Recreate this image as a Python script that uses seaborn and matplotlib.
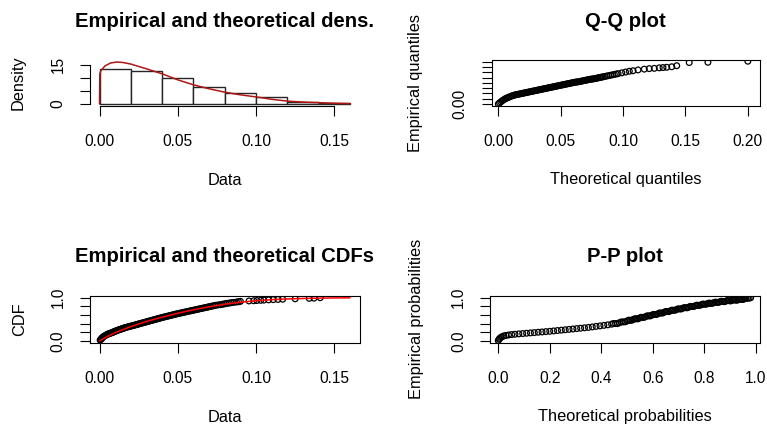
import numpy as np
import matplotlib
matplotlib.use("Agg")
import matplotlib.pyplot as plt
import seaborn as sns

# ---------------- data ----------------
dens_bin_edges = [0.00, 0.02, 0.04, 0.06, 0.08, 0.10, 0.12, 0.14, 0.16]
dens_bin_heights = [13.2, 12.6, 9.8, 6.4, 4.1, 2.8, 0.7, 0.3]

dens_curve_x = [0.0, 0.0002, 0.001, 0.0035, 0.007, 0.011, 0.015, 0.02, 0.03, 0.04,
                0.05, 0.06, 0.07, 0.08, 0.09, 0.10, 0.11, 0.12, 0.13, 0.14, 0.15, 0.16]
dens_curve_y = [0.0, 11.5, 12.8, 14.5, 15.6, 16.0, 15.8, 15.2, 13.4, 11.5,
                9.2, 7.3, 5.8, 4.5, 3.5, 2.7, 1.8, 1.1, 0.75, 0.5, 0.3, 0.15]

qq_theoretical = [0.000, 0.001, 0.002, 0.003, 0.004, 0.005, 0.006, 0.007, 0.008, 0.009,
                  0.010, 0.011, 0.012, 0.013, 0.014, 0.015, 0.016, 0.017, 0.018, 0.019,
                  0.020, 0.021, 0.022, 0.023, 0.024, 0.025, 0.026, 0.027, 0.028, 0.029,
                  0.030, 0.031, 0.032, 0.033, 0.034, 0.035, 0.036, 0.037, 0.038, 0.039,
                  0.040, 0.041, 0.042, 0.043, 0.044, 0.045, 0.046, 0.047, 0.048, 0.049,
                  0.050, 0.051, 0.052, 0.053, 0.054, 0.055, 0.056, 0.057, 0.058, 0.059,
                  0.060, 0.061, 0.062, 0.063, 0.064, 0.065, 0.066, 0.067, 0.068, 0.069,
                  0.070, 0.071, 0.072, 0.073, 0.074, 0.075, 0.076, 0.077, 0.078, 0.079,
                  0.080, 0.081, 0.082, 0.083, 0.084, 0.0855, 0.087, 0.0885, 0.090, 0.0915,
                  0.093, 0.0945, 0.096, 0.099, 0.102, 0.105, 0.108, 0.112, 0.117, 0.121,
                  0.125, 0.129, 0.132, 0.135, 0.139, 0.143, 0.153, 0.168, 0.200]
qq_empirical = [0.000, 0.004, 0.008, 0.012, 0.015, 0.018, 0.021, 0.023, 0.025, 0.027,
                0.029, 0.031, 0.032, 0.034, 0.035, 0.036, 0.037, 0.038, 0.039, 0.040,
                0.041, 0.042, 0.043, 0.044, 0.045, 0.046, 0.047, 0.048, 0.049, 0.050,
                0.051, 0.052, 0.053, 0.054, 0.055, 0.056, 0.057, 0.058, 0.059, 0.060,
                0.061, 0.062, 0.063, 0.064, 0.065, 0.066, 0.067, 0.068, 0.069, 0.070,
                0.071, 0.072, 0.073, 0.074, 0.075, 0.076, 0.077, 0.078, 0.079, 0.080,
                0.081, 0.082, 0.083, 0.0835, 0.084, 0.085, 0.086, 0.087, 0.088, 0.089,
                0.090, 0.091, 0.092, 0.093, 0.094, 0.0945, 0.095, 0.096, 0.097, 0.098,
                0.099, 0.100, 0.101, 0.102, 0.103, 0.1045, 0.106, 0.1075, 0.109, 0.1105,
                0.112, 0.1135, 0.115, 0.118, 0.121, 0.124, 0.126, 0.129, 0.132, 0.134,
                0.135, 0.137, 0.138, 0.139, 0.141, 0.145, 0.157, 0.158, 0.162]

cdf_data = [0.0004, 0.0008, 0.0011, 0.0015, 0.0019, 0.0023, 0.0028, 0.0036, 0.0043, 0.0050,
            0.0061, 0.0073, 0.0083, 0.0093, 0.0103, 0.0112, 0.0124, 0.0136, 0.0148, 0.0160,
            0.0173, 0.0190, 0.0205, 0.0221, 0.0236, 0.0250, 0.0265, 0.0280, 0.0295, 0.0310,
            0.0325, 0.0340, 0.0355, 0.0370, 0.0385, 0.0400, 0.0417, 0.0434, 0.0450, 0.0467,
            0.0483, 0.0500, 0.0519, 0.0538, 0.0556, 0.0575, 0.0594, 0.0613, 0.0631, 0.0650,
            0.0669, 0.0688, 0.0706, 0.0725, 0.0743, 0.0773, 0.0795, 0.0817, 0.0842, 0.0875,
            0.0900, 0.0955, 0.0985, 0.1005, 0.1030, 0.1050, 0.1080, 0.1110, 0.1140, 0.1170,
            0.1250, 0.1340, 0.1370, 0.1410,
            0.0055, 0.0067, 0.0078, 0.0088, 0.0098, 0.0107, 0.0118, 0.0130, 0.0142, 0.0154,
            0.0166, 0.0181, 0.0197, 0.0213, 0.0228, 0.0243, 0.0257, 0.0272, 0.0287, 0.0302,
            0.0317, 0.0332, 0.0347, 0.0362, 0.0377, 0.0392, 0.0408, 0.0425, 0.0442, 0.0458,
            0.0475, 0.0491, 0.0509, 0.0528, 0.0547, 0.0565, 0.0584, 0.0603, 0.0622, 0.0640,
            0.0659, 0.0678, 0.0697, 0.0715, 0.0734, 0.0758, 0.0784, 0.0806, 0.0830, 0.0858,
            0.0888]
cdf_prob = [0.015, 0.030, 0.045, 0.060, 0.075, 0.090, 0.105, 0.120, 0.135, 0.150,
            0.165, 0.180, 0.195, 0.210, 0.225, 0.240, 0.255, 0.270, 0.285, 0.300,
            0.315, 0.330, 0.345, 0.360, 0.375, 0.390, 0.405, 0.420, 0.435, 0.450,
            0.465, 0.480, 0.495, 0.510, 0.525, 0.540, 0.555, 0.570, 0.585, 0.600,
            0.615, 0.630, 0.645, 0.660, 0.675, 0.690, 0.705, 0.720, 0.735, 0.750,
            0.765, 0.780, 0.795, 0.810, 0.825, 0.840, 0.855, 0.870, 0.885, 0.900,
            0.915, 0.925, 0.930, 0.935, 0.940, 0.945, 0.950, 0.955, 0.960, 0.965,
            0.975, 0.985, 0.990, 1.000,
            0.1575, 0.1725, 0.1875, 0.2025, 0.2175, 0.2325, 0.2475, 0.2625, 0.2775, 0.2925,
            0.3075, 0.3225, 0.3375, 0.3525, 0.3675, 0.3825, 0.3975, 0.4125, 0.4275, 0.4425,
            0.4575, 0.4725, 0.4875, 0.5025, 0.5175, 0.5325, 0.5475, 0.5625, 0.5775, 0.5925,
            0.6075, 0.6225, 0.6375, 0.6525, 0.6675, 0.6825, 0.6975, 0.7125, 0.7275, 0.7425,
            0.7575, 0.7725, 0.7875, 0.8025, 0.8175, 0.8325, 0.8475, 0.8625, 0.8775, 0.8925,
            0.9075]

cdf_curve_x = [0.0, 0.005, 0.01, 0.02, 0.03, 0.04, 0.05, 0.06, 0.07, 0.08,
               0.09, 0.10, 0.11, 0.12, 0.13, 0.14, 0.15, 0.16]
cdf_curve_y = [0.0, 0.10, 0.19, 0.33, 0.45, 0.55, 0.64, 0.72, 0.79, 0.85,
               0.895, 0.93, 0.955, 0.972, 0.983, 0.99, 0.995, 0.998]

pp_theoretical = [0.000, 0.003, 0.006, 0.010, 0.015, 0.022, 0.030, 0.040, 0.052, 0.065,
                  0.080, 0.095, 0.110, 0.125, 0.140, 0.155, 0.170, 0.185, 0.200, 0.215,
                  0.230, 0.245, 0.260, 0.275, 0.290, 0.305, 0.320, 0.335, 0.350, 0.365,
                  0.380, 0.395, 0.410, 0.425, 0.440, 0.455, 0.470, 0.485, 0.500, 0.512,
                  0.524, 0.536, 0.548, 0.560, 0.572, 0.584, 0.596, 0.608, 0.620, 0.632,
                  0.644, 0.656, 0.668, 0.680, 0.692, 0.704, 0.716, 0.728, 0.740, 0.752,
                  0.764, 0.776, 0.788, 0.800, 0.812, 0.824, 0.836, 0.848, 0.860, 0.872,
                  0.884, 0.896, 0.908, 0.920, 0.932, 0.944, 0.956, 0.968, 0.980,
                  0.4475, 0.4625, 0.4775, 0.4925, 0.506, 0.518, 0.530, 0.542, 0.554, 0.566,
                  0.578, 0.590, 0.602, 0.614, 0.626, 0.638, 0.650, 0.662, 0.674, 0.686,
                  0.698, 0.710, 0.722, 0.734, 0.746, 0.758, 0.770, 0.782, 0.794, 0.806,
                  0.818, 0.830, 0.842, 0.854, 0.866, 0.878, 0.890, 0.902, 0.914, 0.926,
                  0.938, 0.950, 0.962, 0.974]
pp_empirical = [0.005, 0.035, 0.056, 0.080, 0.095, 0.113, 0.124, 0.135, 0.144, 0.152,
                0.160, 0.168, 0.175, 0.183, 0.190, 0.198, 0.205, 0.213, 0.220, 0.229,
                0.238, 0.247, 0.256, 0.265, 0.274, 0.283, 0.292, 0.301, 0.310, 0.322,
                0.334, 0.346, 0.358, 0.370, 0.385, 0.400, 0.418, 0.439, 0.460, 0.477,
                0.494, 0.510, 0.527, 0.544, 0.561, 0.578, 0.594, 0.611, 0.628, 0.645,
                0.662, 0.678, 0.694, 0.709, 0.725, 0.740, 0.754, 0.768, 0.783, 0.797,
                0.811, 0.824, 0.837, 0.850, 0.861, 0.872, 0.883, 0.894, 0.904, 0.913,
                0.922, 0.931, 0.939, 0.946, 0.954, 0.962, 0.975, 0.988, 1.000,
                0.402, 0.399, 0.438, 0.440, 0.478, 0.476, 0.512, 0.509, 0.545, 0.543,
                0.579, 0.577, 0.612, 0.610, 0.646, 0.644, 0.680, 0.677, 0.711, 0.708,
                0.742, 0.738, 0.771, 0.766, 0.800, 0.795, 0.827, 0.821, 0.853, 0.847,
                0.876, 0.868, 0.898, 0.890, 0.918, 0.908, 0.936, 0.925, 0.952, 0.940,
                0.968, 0.959, 0.987, 0.990]

titles = ["Empirical and theoretical dens.", "Q-Q plot",
          "Empirical and theoretical CDFs", "P-P plot"]

dens_xticks = [0.00, 0.05, 0.10, 0.15]
dens_xticklabels = ["0.00", "0.05", "0.10", "0.15"]
dens_yticks = [0, 5, 10, 15]
dens_yticklabels = ["0", "", "", "15"]
qq_xticks = [0.00, 0.05, 0.10, 0.15, 0.20]
qq_xticklabels = ["0.00", "0.05", "0.10", "0.15", "0.20"]
qq_yticks = [0.00, 0.02, 0.04, 0.06, 0.08, 0.10, 0.12, 0.14, 0.16]
qq_yticklabels = ["0.00", "", "", "", "", "", "", "", ""]
cdf_yticks = [0.0, 0.2, 0.4, 0.6, 0.8, 1.0]
cdf_yticklabels = ["0.0", "", "", "", "", "1.0"]
pp_xticks = [0.0, 0.2, 0.4, 0.6, 0.8, 1.0]
pp_xticklabels = ["0.0", "0.2", "0.4", "0.6", "0.8", "1.0"]

# ---------------- style ----------------
sns.set_style("ticks")
plt.rcParams["font.family"] = ["Liberation Sans", "DejaVu Sans"]

W, H = 767, 426
TITLE_FS, LABEL_FS, TICK_FS = 14.6, 11.8, 11.2

fig = plt.figure(figsize=(W / 100, H / 100), dpi=100)
fig.patch.set_facecolor("white")

# panel boxes in pixels: left, right, top, bottom
boxes = {
    "dens": (89.5, 360.0, 60.3, 105.7),
    "qq": (491.7, 759.7, 60.3, 105.7),
    "cdf": (89.5, 360.0, 296.0, 342.5),
    "pp": (490.0, 759.7, 296.0, 342.5),
}


def add_ax(key):
    l, r, t, b = boxes[key]
    return fig.add_axes([l / W, 1 - b / H, (r - l) / W, (b - t) / H])


def style_ax(ax, key, xlim, ylim, xt, xtl, yt, ytl, xlabel, ylabel,
             xlab_base, ylab_base, title):
    l, r, t, b = boxes[key]
    ax.set_facecolor("white")
    ax.set_xlim(*xlim)
    ax.set_ylim(*ylim)
    ax.set_xticks(xt)
    ax.set_xticklabels(xtl)
    ax.set_yticks(yt)
    ax.set_yticklabels(ytl, rotation=90, va="center")
    ax.tick_params(direction="out", length=7, width=0.8, colors="black",
                   labelsize=TICK_FS, bottom=True, left=True, top=False,
                   right=False)
    ax.tick_params(axis="x", pad=13.3)
    ax.tick_params(axis="y", pad=10.3)
    for sp in ax.spines.values():
        sp.set_color("black")
        sp.set_linewidth(0.8)
    ax.grid(False)
    ax.set_xlabel(xlabel, fontsize=LABEL_FS, color="black")
    ax.set_ylabel(ylabel, fontsize=LABEL_FS, color="black")
    ax.xaxis.set_label_coords(0.5, (b - xlab_base) / (b - t))
    ax.xaxis.label.set_va("baseline")
    ax.yaxis.set_label_coords((ylab_base - l) / (r - l), 0.5)
    ax.yaxis.label.set_va("baseline")
    ax.set_title(title, fontsize=TITLE_FS, fontweight="bold", pad=24.2,
                 color="black")


marker_kw = dict(marker="o", s=17, facecolor="none", edgecolor="black",
                 linewidth=0.9, legend=False)

# ---- density panel ----
ax = add_ax("dens")
bin_centers = [(a + b) / 2 for a, b in zip(dens_bin_edges[:-1], dens_bin_edges[1:])]
sns.histplot(x=bin_centers, weights=dens_bin_heights, bins=dens_bin_edges,
             stat="count", color="white", edgecolor="#262626", linewidth=1.0,
             alpha=1, ax=ax)
sns.lineplot(x=dens_curve_x, y=dens_curve_y, color="#B01515", linewidth=1.1,
             estimator=None, sort=False, ax=ax)
style_ax(ax, "dens", (-0.0064, 0.1664), (-0.64, 16.64), dens_xticks,
         dens_xticklabels, dens_yticks, dens_yticklabels, "Data", "Density",
         185.0, 23.0, titles[0])
ax.spines["top"].set_visible(False)
ax.spines["right"].set_visible(False)
ax.spines["left"].set_bounds(0, 15)
ax.spines["bottom"].set_bounds(0, 0.15)

# ---- Q-Q panel ----
ax = add_ax("qq")
sns.scatterplot(x=qq_theoretical, y=qq_empirical, ax=ax, **marker_kw)
style_ax(ax, "qq", (-0.0053, 0.2095), (-0.0064, 0.1655), qq_xticks,
         qq_xticklabels, qq_yticks, qq_yticklabels, "Theoretical quantiles",
         "Empirical quantiles", 184.0, 420.0, titles[1])

# ---- CDF panel ----
ax = add_ax("cdf")
sns.scatterplot(x=cdf_data, y=cdf_prob, ax=ax, **marker_kw)
sns.lineplot(x=cdf_curve_x, y=cdf_curve_y, color="red", linewidth=1.1,
             estimator=None, sort=False, ax=ax, zorder=5)
style_ax(ax, "cdf", (-0.0064, 0.1664), (-0.04, 1.04), dens_xticks,
         dens_xticklabels, cdf_yticks, cdf_yticklabels, "Data", "CDF",
         422.5, 24.5, titles[2])

# ---- P-P panel ----
ax = add_ax("pp")
sns.scatterplot(x=pp_theoretical, y=pp_empirical, ax=ax, **marker_kw)
style_ax(ax, "pp", (-0.032, 1.015), (-0.04, 1.04), pp_xticks, pp_xticklabels,
         cdf_yticks, cdf_yticklabels, "Theoretical probabilities",
         "Empirical probabilities", 421.0, 421.5, titles[3])

fig.savefig("out.png", dpi=100, facecolor="white")
